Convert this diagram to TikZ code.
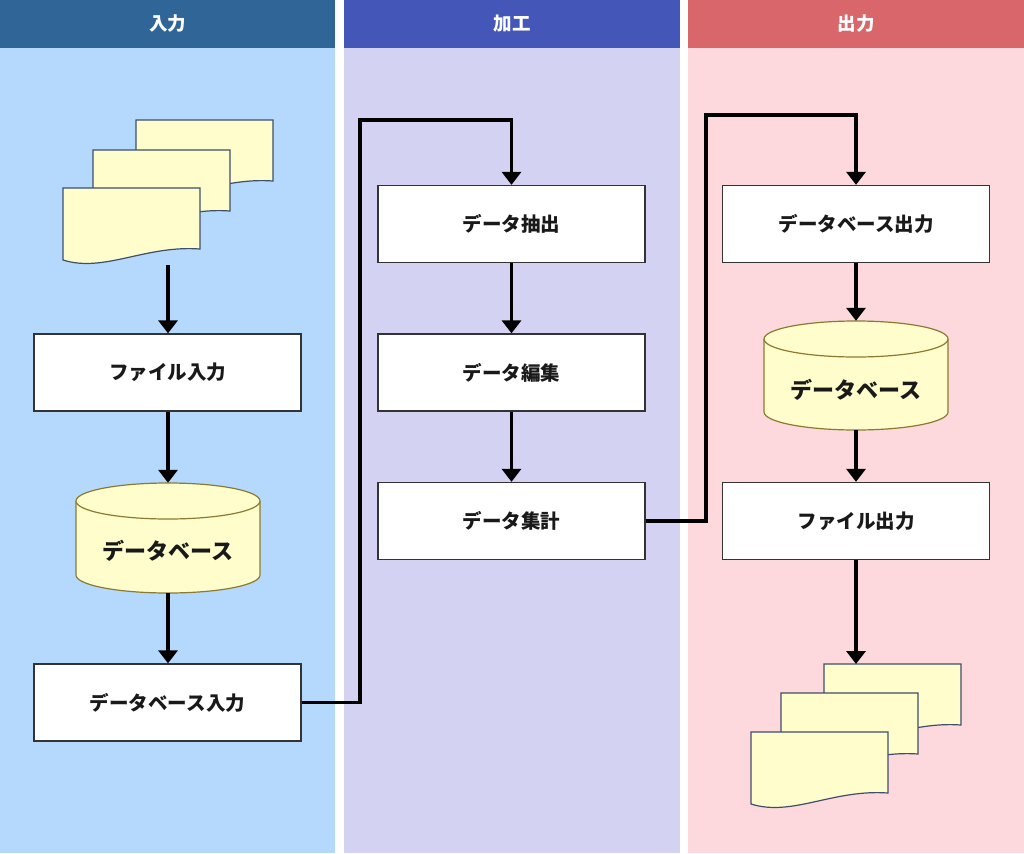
\documentclass[tikz,border=0pt]{standalone}
\usepackage{fontspec}
\setmainfont{Noto Sans CJK JP}
\usetikzlibrary{arrows.meta}
\definecolor{hdA}{HTML}{2F6597}
\definecolor{hdB}{HTML}{4457B9}
\definecolor{hdC}{HTML}{D8666B}
\definecolor{bgA}{HTML}{B5D8FD}
\definecolor{bgB}{HTML}{D3D2F3}
\definecolor{bgC}{HTML}{FDD9DD}
\definecolor{paper}{HTML}{FFFDCC}
\definecolor{paperline}{HTML}{3F4E6A}
\definecolor{cylline}{HTML}{8C7A32}
\definecolor{boxline}{HTML}{333333}
\newcommand\docshape[2]{%
  \begin{scope}[shift={(#1,#2)}]
    \draw[docstyle] (0,0) -- (137,0) -- (137,61) .. controls (82,57) and (41,85) .. (0,72) -- cycle;
  \end{scope}}
\newcommand\dbcyl[3]{% center x, top y, bottom y
  \fill[paper] (#1-92,#2+18) -- (#1-92,#3-18) arc[start angle=180,end angle=0,x radius=92,y radius=18] -- (#1+92,#2+18) -- cycle;
  \draw[cylline,line width=1.2pt] (#1-92,#2+18) -- (#1-92,#3-18) arc[start angle=180,end angle=0,x radius=92,y radius=18] -- (#1+92,#2+18);
  \draw[cylline,line width=1.2pt,fill=paper] (#1,#2+18) ellipse[x radius=92,y radius=18];}
\begin{document}
\begin{tikzpicture}[x=1pt,y=-1pt,
  docstyle/.style={draw=paperline,fill=paper,line width=1.2pt,line join=miter},
  hdr/.style={text=white,font=\fontsize{18.5}{20}\selectfont\bfseries,minimum width=335pt,minimum height=48pt,inner sep=0pt},
  procbox/.style={draw=boxline,fill=white,line width=1.3pt,minimum width=267pt,minimum height=77pt,inner sep=0pt,font=\fontsize{19.5}{22}\selectfont\bfseries,text=black!90},
  dbspace/.style={minimum width=184pt,inner sep=0pt},
  dbtext/.style={font=\fontsize{22}{24}\selectfont\bfseries,text=black!90,inner sep=0pt},
  arr/.style={line width=3.6pt,line join=miter,-{Triangle[width=19pt,length=13pt]}}]
\useasboundingbox (0,0) rectangle (1024,853);
\fill[white] (0,0) rectangle (1024,853);
% lanes
\fill[bgA] (0,48) rectangle (335,853);
\fill[bgB] (344,48) rectangle (680,853);
\fill[bgC] (688,48) rectangle (1024,853);
\node[hdr,fill=hdA] (hA) at (167.5,24) {入力};
\node[hdr,fill=hdB,minimum width=336pt] (hB) at (512,24) {加工};
\node[hdr,fill=hdC,minimum width=336pt] (hC) at (856,24) {出力};
% input documents
\docshape{136}{120}
\docshape{93}{150}
\docshape{63}{188}
\coordinate (docsIn) at (168,265);
% lane 1
\node[procbox] (fin) at (167.5,372.5) {ファイル入力};
\dbcyl{168}{483}{593}
\node[dbspace,minimum height=110pt] (db1) at (168,538) {};
\node[dbtext] (db1t) at (168,551) {データベース};
\node[procbox] (dbin) at (167.5,702.5) {データベース入力};
% lane 2
\node[procbox] (ext) at (511.5,224) {データ抽出};
\node[procbox] (edit) at (511.5,372.5) {データ編集};
\node[procbox] (agg) at (511.5,521) {データ集計};
% lane 3
\node[procbox] (dbout) at (856,224) {データベース出力};
\dbcyl{856}{321}{430}
\node[dbspace,minimum height=109pt] (db2) at (856,375.5) {};
\node[dbtext] (db2t) at (856,390) {データベース};
\node[procbox] (fout) at (856,521) {ファイル出力};
% output documents
\docshape{824}{664}
\docshape{781}{693}
\docshape{751}{732}
\coordinate (docsOut) at (856,664);
% connectors
\draw[arr] (docsIn) -- (docsIn |- fin.north);
\draw[arr] (fin.south -| db1.north) -- (db1.north);
\draw[arr] (db1.south) -- (db1.south |- dbin.north);
\coordinate (turnA) at (360,120);
\draw[arr] (dbin.east) -| (turnA) -| (ext.north);
\draw[arr] (ext.south) -- (edit.north);
\draw[arr] (edit.south) -- (agg.north);
\coordinate (turnB) at (706,115);
\draw[arr] (agg.east) -| (turnB) -| (dbout.north);
\draw[arr] (dbout.south) -- (db2.north);
\draw[arr] (db2.south) -- (fout.north);
\draw[arr] (fout.south) -- (docsOut);
\end{tikzpicture}
\end{document}
